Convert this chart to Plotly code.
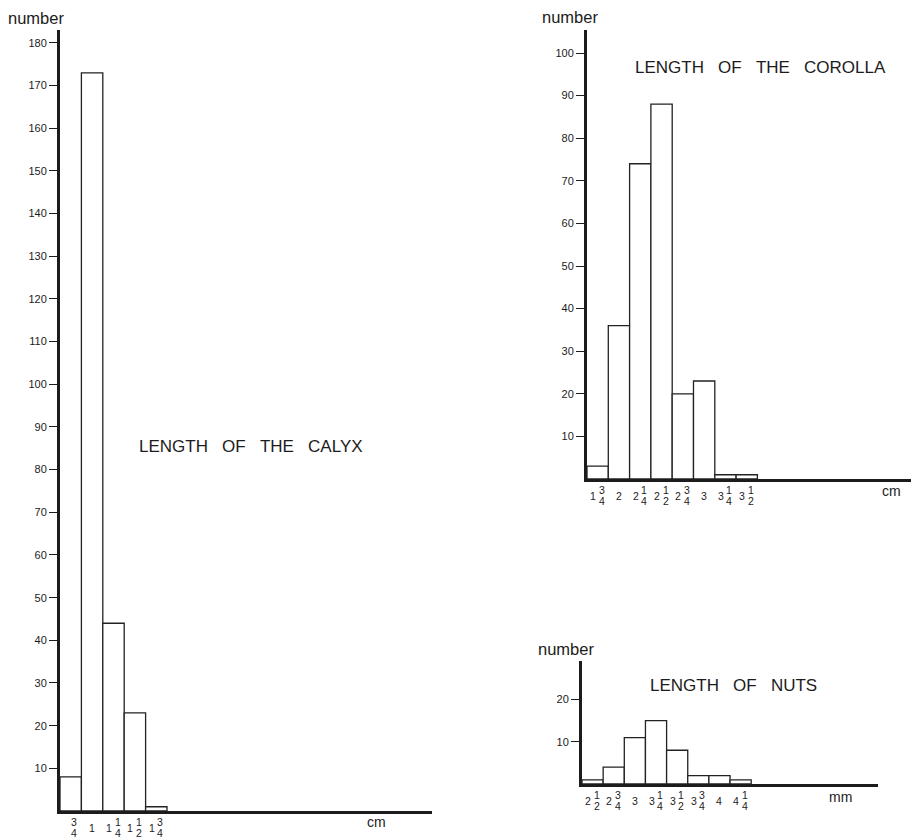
import plotly.graph_objects as go

# page body has an 8px margin: the figure is offset by it
OFF = 8
W, H = 919 - OFF, 840 - OFF

# ---------------- data ----------------
calyx_labels = ["3/4", "1", "1 1/4", "1 1/2", "1 3/4"]
calyx_counts = [8, 173, 44, 23, 1]
calyx_yticks = list(range(10, 181, 10))

corolla_labels = ["1 3/4", "2", "2 1/4", "2 1/2", "2 3/4", "3", "3 1/4", "3 1/2"]
corolla_counts = [3, 36, 74, 88, 20, 23, 1, 1]
corolla_yticks = list(range(10, 101, 10))

nuts_labels = ["2 1/2", "2 3/4", "3", "3 1/4", "3 1/2", "3 3/4", "4", "4 1/4"]
nuts_counts = [1, 4, 11, 15, 8, 2, 2, 1]
nuts_yticks = [10, 20]

titles = ["LENGTH OF THE CALYX", "LENGTH OF THE COROLLA", "LENGTH OF NUTS"]
units = ["cm", "cm", "mm"]
y_title = "number"

# ---------------- layout geometry (reference pixels) ----------------
panels = [
    dict(labels=calyx_labels, counts=calyx_counts, yticks=calyx_yticks,
         x0=60, x1=432, ybase=811, ytop=30, sx=21.4, sy=4.267,
         title_xy=(251, 447), unit_xy=(376, 822), num_xy=(36, 17.5)),
    dict(labels=corolla_labels, counts=corolla_counts, yticks=corolla_yticks,
         x0=587, x1=919, ybase=479, ytop=30, sx=21.3, sy=4.26,
         title_xy=(760, 67), unit_xy=(891, 491), num_xy=(570, 17)),
    dict(labels=nuts_labels, counts=nuts_counts, yticks=nuts_yticks,
         x0=582, x1=878, ybase=784, ytop=661, sx=21.15, sy=4.22,
         title_xy=(733, 685), unit_xy=(840, 797), num_xy=(566, 649)),
]

FONT = "Liberation Sans, Arial, Helvetica, sans-serif"
INK = "#1c1c1c"


def px_x(px):
    return (px - OFF) / W


def px_y(py):
    return 1 - (py - OFF) / H


fig = go.Figure()
annotations = []
layout = dict(width=W, height=H, margin=dict(l=0, r=0, t=0, b=0),
              paper_bgcolor="white", plot_bgcolor="white", showlegend=False,
              font=dict(family=FONT, color=INK))

NB = "\u00a0"

for k, p in enumerate(panels):
    sfx = "" if k == 0 else str(k + 1)
    xname, yname = "x" + sfx, "y" + sfx
    n = len(p["counts"])
    centers = [i + 0.5 for i in range(n)]
    fig.add_trace(go.Bar(
        x=centers, y=p["counts"], width=1,
        marker=dict(color="white", line=dict(color="#222222", width=1.3)),
        xaxis=xname, yaxis=yname, hoverinfo="y"))

    xr = (min(p["x1"], 919) - p["x0"]) / p["sx"]
    yr = (p["ybase"] - p["ytop"]) / p["sy"]
    layout["xaxis" + sfx] = dict(
        domain=[px_x(p["x0"]), min(1.0, px_x(p["x1"]))], range=[0, xr],
        anchor=yname, showline=True, linewidth=3, linecolor=INK,
        showgrid=False, zeroline=False, showticklabels=False, ticks="")
    layout["yaxis" + sfx] = dict(
        domain=[px_y(p["ybase"]), px_y(p["ytop"])], range=[0, yr], anchor=xname,
        showline=True, linewidth=3, linecolor=INK, showgrid=False,
        zeroline=False, ticks="outside", ticklen=8, tickwidth=1.3,
        tickcolor=INK, tickvals=p["yticks"],
        tickfont=dict(family=FONT, size=11, color=INK))

    # stacked-fraction tick labels
    for c, lab in zip(centers, p["labels"]):
        whole, frac = None, None
        for part in lab.split(" "):
            if "/" in part:
                frac = part.split("/")
            else:
                whole = part
        both = whole is not None and frac is not None
        if whole is not None:
            annotations.append(dict(
                x=c, xref=xname, y=px_y(p["ybase"] + 16.5), yref="paper",
                text=whole, showarrow=False, xshift=-4.5 if both else 0,
                font=dict(size=10.5, color=INK, family=FONT),
                xanchor="center", yanchor="middle"))
        if frac is not None:
            for txt, dy in ((frac[0], 10.5), (frac[1], 21.5)):
                annotations.append(dict(
                    x=c, xref=xname, y=px_y(p["ybase"] + dy), yref="paper",
                    text=txt, showarrow=False, xshift=4 if both else 3,
                    font=dict(size=10.5, color=INK, family=FONT),
                    xanchor="center", yanchor="middle"))

    # panel title
    tx, ty = p["title_xy"]
    annotations.append(dict(
        x=px_x(tx), y=px_y(ty), xref="paper", yref="paper",
        text=titles[k].replace(" ", NB * 3), showarrow=False,
        font=dict(size=17, color=INK, family=FONT),
        xanchor="center", yanchor="middle"))
    # unit label
    ux, uy = p["unit_xy"]
    annotations.append(dict(
        x=px_x(ux), y=px_y(uy), xref="paper", yref="paper",
        text=units[k], showarrow=False,
        font=dict(size=14, color=INK, family=FONT),
        xanchor="center", yanchor="middle"))
    # y axis title
    nx, ny = p["num_xy"]
    annotations.append(dict(
        x=px_x(nx), y=px_y(ny), xref="paper", yref="paper",
        text=y_title, showarrow=False, borderpad=0,
        font=dict(size=16.5, color=INK, family=FONT),
        xanchor="center", yanchor="middle"))

layout["annotations"] = annotations
fig.update_layout(**layout)
fig.write_html("out.html")
